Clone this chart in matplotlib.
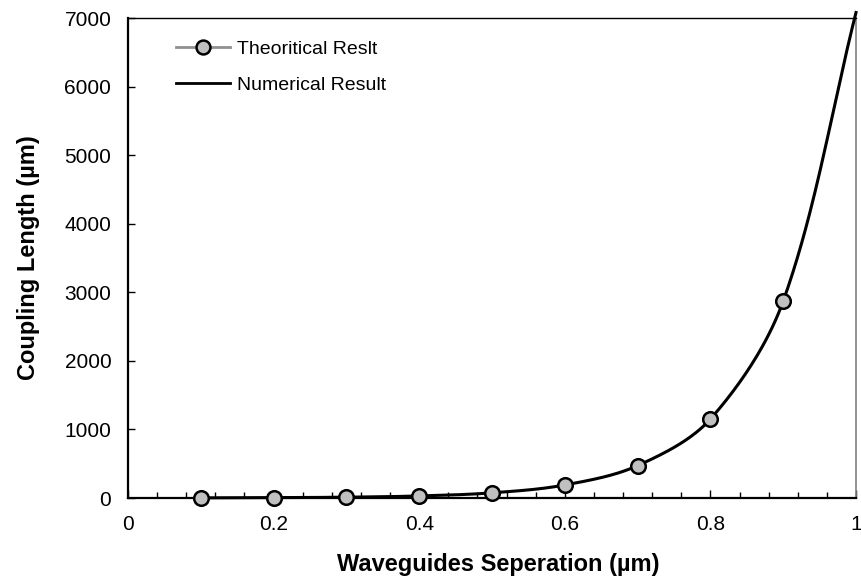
import numpy as np
import matplotlib.pyplot as plt
from matplotlib.ticker import MultipleLocator

plt.rcParams['font.family'] = ['Liberation Sans', 'DejaVu Sans']

# Waveguide separation (um) and coupling length (um)
sep = [0.1, 0.2, 0.3, 0.4, 0.5, 0.6, 0.7, 0.8, 0.9]
theory = [2, 5, 12, 30, 75, 190, 472, 1152, 2872]

sep_num = [0.1, 0.2, 0.3, 0.4, 0.5, 0.6, 0.7, 0.8, 0.9, 1.0]
numeric = [2, 5, 12, 30, 75, 190, 472, 1152, 2872, 7080]

XMAX, YMAX = 1.0, 7000.0
AX_W, AX_H = 728, 480  # axes size in pixels


def smooth(x, y, n=40):
    """Bezier smoothed line with chord-length weighted tangents (screen space)"""
    P = np.column_stack([np.asarray(x, float) / XMAX * AX_W,
                         np.asarray(y, float) / YMAX * AX_H])
    out = [P[:1]]
    t = np.linspace(0, 1, n)[1:, None]
    for i in range(len(P) - 1):
        p1, p2 = P[i], P[i + 1]
        p0 = P[i - 1] if i > 0 else p1
        p3 = P[i + 2] if i + 2 < len(P) else p2
        d01 = np.hypot(*(p1 - p0))
        d12 = np.hypot(*(p2 - p1))
        d23 = np.hypot(*(p3 - p2))
        c1 = p1 + (p2 - p0) * d12 / (d01 + d12) / 3
        c2 = p2 - (p3 - p1) * d12 / (d12 + d23) / 3
        seg = (1 - t) ** 3 * p1 + 3 * (1 - t) ** 2 * t * c1 \
            + 3 * (1 - t) * t ** 2 * c2 + t ** 3 * p2
        out.append(seg)
    pts = np.vstack(out)
    return pts[:, 0] / AX_W * XMAX, pts[:, 1] / AX_H * YMAX


fig = plt.figure(figsize=(8.61, 5.81), dpi=100)
ax = fig.add_axes([128 / 861, 83 / 581, AX_W / 861, AX_H / 581])

nx, ny = smooth(sep_num, numeric)
ax.plot(nx, ny, color='black', lw=2.2, zorder=3, clip_on=False)
ax.plot(sep, theory, 'o', ms=10.5, mfc='#c0c0c0', mec='black', mew=1.8, zorder=4, clip_on=False)

# legend entries
h1, = ax.plot([], [], '-o', color='#909090', lw=2, ms=10, mfc='#c0c0c0', mec='black', mew=1.8)
h2, = ax.plot([], [], '-', color='black', lw=2)
ax.legend([h1, h2], ['Theoritical Reslt', 'Numerical Result'], loc='upper left',
          bbox_to_anchor=(176 / 861, 1 - 40 / 581), bbox_transform=fig.transFigure,
          frameon=False, fontsize=14, handlelength=2.8, handletextpad=0.36,
          labelspacing=0.94, borderpad=0, borderaxespad=0)

ax.set_xlim(0, XMAX)
ax.set_ylim(0, YMAX)
ax.set_xticks([0, 0.2, 0.4, 0.6, 0.8, 1])
ax.set_xticklabels(['0', '0.2', '0.4', '0.6', '0.8', '1'])
ax.xaxis.set_minor_locator(MultipleLocator(0.04))
ax.yaxis.set_major_locator(MultipleLocator(1000))
ax.tick_params(axis='x', which='major', direction='in', length=6, width=1, labelsize=15, pad=12)
ax.tick_params(axis='x', which='minor', direction='in', length=4, width=1)
ax.tick_params(axis='y', which='major', direction='in', length=5, width=1, labelsize=15, pad=12)

for s in ['left', 'bottom']:
    ax.spines[s].set_linewidth(1.6)
ax.spines['top'].set_linewidth(1)
ax.spines['right'].set_linewidth(1.2)
ax.spines['right'].set_color('#808080')

fig.text(498 / 861, 1 - 571 / 581, 'Waveguides Seperation (µm)', fontsize=17,
         fontweight='bold', ha='center', va='baseline')
fig.text(28 / 861, 1 - 258 / 581, 'Coupling Length (µm)', fontsize=17,
         fontweight='bold', ha='center', va='center', rotation=90)

fig.savefig('out.png', dpi=100)
